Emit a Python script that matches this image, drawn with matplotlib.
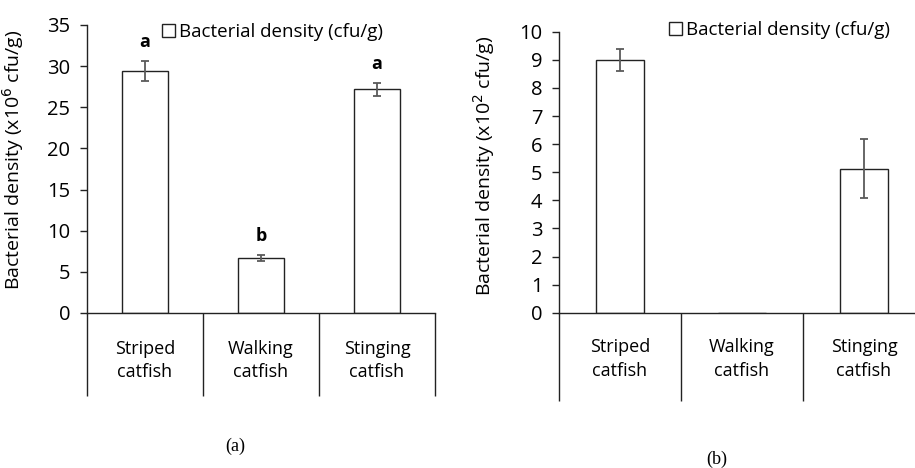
import matplotlib
matplotlib.use("Agg")
import matplotlib.pyplot as plt
from matplotlib.patches import Patch
from matplotlib.transforms import blended_transform_factory

plt.rcParams["font.family"] = ["Open Sans", "DejaVu Sans"]

# categories and values
categorie = ["Striped\ncatfish", "Walking\ncatfish", "Stinging\ncatfish"]

dens_a = [29.45, 6.7, 27.2]        # x10^6 cfu/g
err_a = [1.2, 0.4, 0.8]
lettere_a = ["a", "b", "a"]

dens_b = [9.0, 0.0, 5.12]          # x10^2 cfu/g
err_b = [0.4, 0.0, 1.05]

legenda = "Bacterial density (cfu/g)"
ylab_a = "Bacterial density (x10$^{6}$ cfu/g)"
ylab_b = "Bacterial density (x10$^{2}$ cfu/g)"

W, H = 915, 468
fig = plt.figure(figsize=(W / 100, H / 100), dpi=100)


def pannello(rect, valori, errori, ymax, passo, ylab, leg_xy, lab_xy, vlen, lettere=None):
    ax = fig.add_axes(rect)
    x = [0.5, 1.5, 2.5]
    ax.bar(x, valori, width=0.4, color="white", edgecolor="#222222", linewidth=1.0, zorder=2)
    for xi, v, e in zip(x, valori, errori):
        if v <= 0:
            continue
        ax.errorbar(xi, v, yerr=e, fmt="none", ecolor="#5a5a5a", elinewidth=1.3,
                    capsize=3, capthick=1.3, zorder=3)
    if lettere:
        for xi, v, e, l in zip(x, valori, errori, lettere):
            ax.annotate(l, (xi, v + e), xytext=(0, 7), textcoords="offset points",
                        ha="center", va="bottom", fontsize=13, fontweight="bold")
    ax.set_xlim(0, 3)
    ax.set_ylim(0, ymax)
    ax.set_yticks(range(0, ymax + 1, passo))
    ax.set_xticks([0, 1, 2, 3])
    ax.set_xticklabels([])
    ax.tick_params(axis="x", direction="out", length=vlen, width=1.0, color="#222222")
    ax.tick_params(axis="y", direction="out", length=5, width=1.0, color="#222222",
                   labelsize=14.5, pad=7)
    for s in ["top", "right"]:
        ax.spines[s].set_visible(False)
    for s in ["left", "bottom"]:
        ax.spines[s].set_color("#222222")
        ax.spines[s].set_linewidth(1.0)
    tr = blended_transform_factory(ax.transData, ax.transAxes)
    for xi, c in zip(x, categorie):
        ax.text(xi, -0.165, c, transform=tr, ha="center", va="center",
                fontsize=13, linespacing=1.4)
    ax.set_ylabel(ylab, fontsize=14)
    ax.yaxis.set_label_coords(*lab_xy)
    ax.legend(handles=[Patch(facecolor="white", edgecolor="#222222", linewidth=1.0)],
              labels=[legenda], loc="center left", bbox_to_anchor=leg_xy,
              frameon=False, handlelength=0.7, handleheight=0.7,
              handletextpad=0.2, fontsize=13.5, borderpad=0, borderaxespad=0)
    return ax


ax1 = pannello([87 / W, 1 - 313 / H, 348 / W, 288 / H], dens_a, err_a, 35, 5,
               ylab_a, (75 / 348, 1 - 7 / 288), (-61 / 348, (313 - 160) / 288), 60,
               lettere=lettere_a)
ax2 = pannello([559 / W, 1 - 312.7 / H, 366 / W, 281 / H], dens_b, err_b, 10, 1,
               ylab_b, (110 / 366, 1 + 2 / 281), (-62 / 366, (312.7 - 166) / 281), 63)

fig.text(235 / W, 1 - 446 / H, "(a)", ha="center", va="center",
         fontsize=13, family="Liberation Serif")
fig.text(717 / W, 1 - 459 / H, "(b)", ha="center", va="center",
         fontsize=13, family="Liberation Serif")

fig.savefig("out.png", dpi=100)
